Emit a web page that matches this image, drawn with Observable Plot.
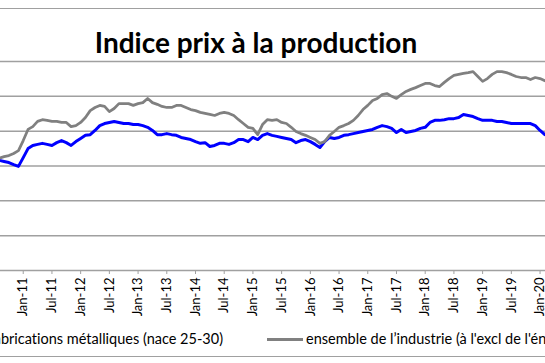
<!DOCTYPE html>
<html>
<head>
<meta charset="utf-8">
<script src="https://cdn.jsdelivr.net/npm/d3@7"></script>
<script src="https://cdn.jsdelivr.net/npm/@observablehq/plot@0.6"></script>
<style>
  body { margin: 0; background: #fff; }
  #chart { position: relative; width: 545px; height: 363px; overflow: hidden; background: #fff; font-family: Lato, "Open Sans", sans-serif; font-variant-ligatures: none; }
  .frame { position: absolute; left: 0; width: 545px; height: 0; border-top: 1.5px solid #a0a0a0; }
  #title { position: absolute; top: 27px; left: 0; width: 512px; text-align: center; font-weight: bold; font-size: 28px; line-height: 30px; color: #000; }
  #plot { position: absolute; top: 50px; left: 0; }
  .leg { position: absolute; top: 330px; white-space: nowrap; font-size: 14.5px; line-height: 18px; color: #000; }
  .sw { display: inline-block; width: 36px; height: 3px; vertical-align: middle; margin-right: 3px; position: relative; top: -1px; }
</style>
</head>
<body>
<div id="chart">
  <div class="frame" style="top:8px"></div>
  <div class="frame" style="top:356px"></div>
  <div id="title">Indice prix à la production</div>
  <div id="plot"></div>
  <div class="leg" id="leg1" style="right:322px"><span class="sw" style="background:#0000ff"></span>Fabrications métalliques (nace 25-30)</div>
  <div class="leg" id="leg2" style="left:267px"><span class="sw" style="background:#808080"></span>ensemble de l’industrie (à l'excl de l'énergie)</div>
</div>
<script>
// Month index: 0 = Jan-2010; series start at Jun-2010 (index 6)
const firstMonth = 6;

const seriesNames = ["Fabrications métalliques (nace 25-30)", "ensemble de l’industrie (à l'excl de l'énergie)"];

const fabrications = [
  101.6, 101.6, 101.3, 101.0, 100.4, 99.9,
  102.4, 105.0, 105.9, 106.2, 106.5, 106.2, 105.9, 106.7, 107.3, 106.7, 105.9, 107.0,
  107.9, 108.8, 109.0, 110.2, 111.6, 112.2, 112.5, 112.8, 112.5, 112.2, 112.2, 111.9,
  111.9, 111.6, 111.1, 110.2, 109.0, 109.0, 109.3, 109.0, 108.8, 108.2, 107.9, 107.6,
  107.0, 106.5, 106.7, 105.6, 105.9, 106.5, 106.5, 106.2, 106.7, 107.6, 107.6, 107.0,
  108.2, 107.6, 108.8, 109.3, 108.8, 108.5, 108.2, 107.9, 107.6, 106.7, 107.3, 107.6,
  107.0, 106.2, 105.3, 107.0, 108.2, 107.9, 108.2, 108.8, 109.0, 109.3, 109.6, 109.9,
  110.2, 110.5, 111.1, 111.6, 111.3, 110.8, 109.6, 110.5, 109.6, 109.9, 110.2, 110.8,
  111.1, 112.5, 113.1, 113.1, 113.3, 113.6, 113.6, 113.9, 114.8, 114.5, 114.2, 113.6,
  113.1, 113.1, 113.1, 112.8, 112.8, 112.5, 112.2, 112.2, 112.2, 112.2, 112.2, 111.6,
  110.2, 109.0, 108.5
];

const ensemble = [
  101.9, 102.2, 102.7, 103.0, 103.6, 104.4,
  107.3, 110.5, 111.3, 112.8, 113.3, 113.1, 112.8, 112.8, 112.5, 112.5, 111.3, 111.6,
  112.5, 113.9, 115.9, 116.8, 117.4, 117.1, 115.6, 116.5, 117.9, 117.9, 117.9, 117.4,
  117.9, 118.2, 119.4, 118.2, 117.7, 117.1, 116.8, 116.8, 117.4, 117.4, 116.8, 116.2,
  115.9, 115.4, 115.1, 114.8, 114.5, 115.1, 115.4, 115.1, 114.5, 113.3, 112.2, 111.1,
  110.8, 109.0, 111.9, 113.3, 113.1, 113.3, 112.5, 112.2, 111.1, 109.9, 109.3, 108.8,
  108.2, 107.6, 106.5, 107.0, 108.8, 109.9, 111.1, 111.6, 112.2, 113.1, 114.5, 116.2,
  117.4, 118.8, 119.4, 120.5, 120.8, 120.0, 119.4, 120.5, 121.4, 122.0, 122.5, 123.1,
  123.7, 123.7, 123.1, 122.8, 124.0, 125.1, 126.0, 126.3, 126.6, 126.8, 127.1, 125.7,
  124.3, 125.1, 126.3, 127.1, 127.1, 126.8, 126.3, 125.7, 125.4, 125.4, 124.8, 125.4,
  125.1, 124.5, 124.0
];

const tickLabels = ["Jul-10","Jan-11","Jul-11","Jan-12","Jul-12","Jan-13","Jul-13","Jan-14","Jul-14",
  "Jan-15","Jul-15","Jan-16","Jul-16","Jan-17","Jul-17","Jan-18","Jul-18","Jan-19","Jul-19","Jan-20"];
const yTicks = [70, 80, 90, 100, 110, 120, 130];

const tickMonths = tickLabels.map((_, i) => 6 + 6 * i);
const fabRows = fabrications.map((v, i) => ({m: firstMonth + i, v}));
const ensRows = ensemble.map((v, i) => ({m: firstMonth + i, v}));

const plot = Plot.plot({
  width: 545,
  height: 275,
  marginLeft: 0,
  marginRight: 0,
  marginTop: 11,
  marginBottom: 55,
  style: {fontFamily: "Lato, 'Open Sans', sans-serif", fontSize: "13px", color: "#000", background: "transparent"},
  x: {type: "linear", domain: [7.25, 121.14], label: null},
  y: {domain: [70, 130], axis: null},
  marks: [
    Plot.ruleY(yTicks, {stroke: "#a0a0a0", strokeWidth: 1.5}),
    Plot.axisX(tickMonths, {
      tickFormat: d => tickLabels[(d - 6) / 6],
      tickRotate: -90,
      tickSize: 4,
      tickPadding: 3,
      stroke: "#a0a0a0",
      fill: "#000",
      fontSize: 13,
      label: null
    }),
    Plot.line(fabRows, {x: "m", y: "v", stroke: "#0000ff", strokeWidth: 3, clip: true}),
    Plot.line(ensRows, {x: "m", y: "v", stroke: "#808080", strokeWidth: 2.75, clip: true})
  ]
});
document.getElementById("plot").appendChild(plot);
</script>
</body>
</html>
